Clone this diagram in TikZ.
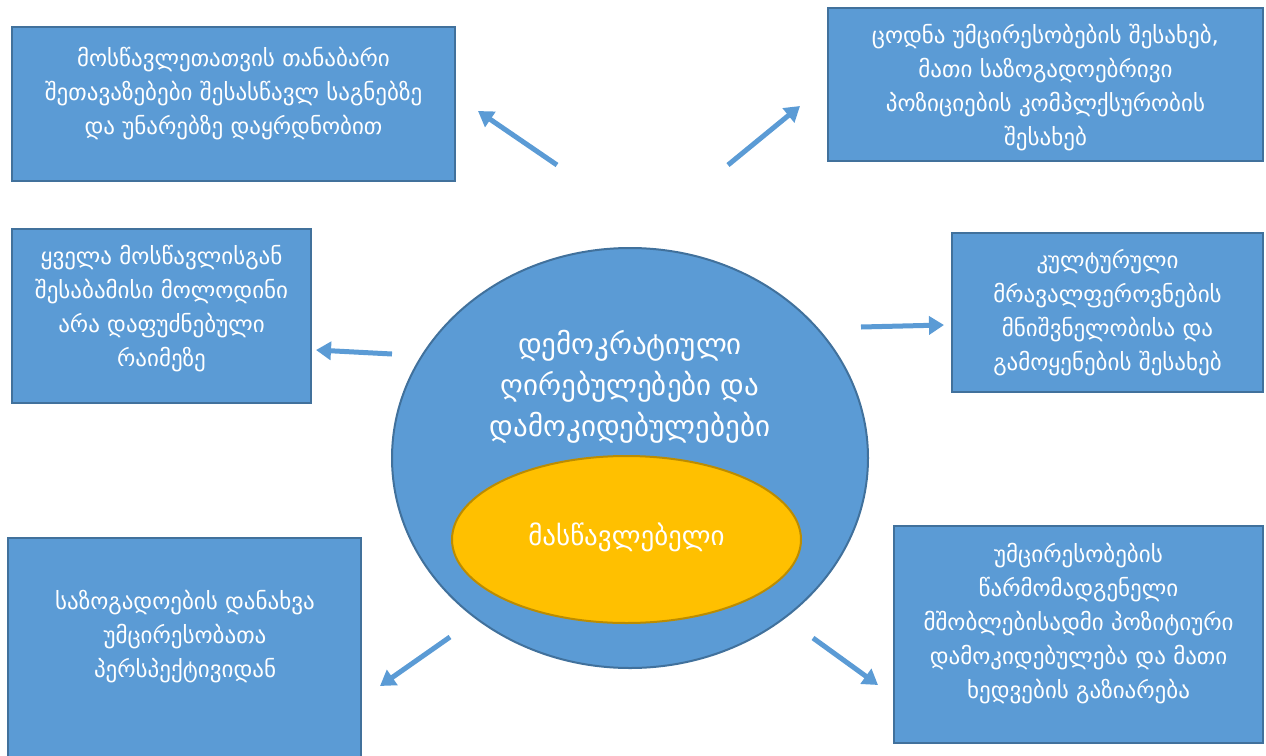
\documentclass[tikz,border=0pt]{standalone}
\usepackage{fontspec}
\setmainfont{DejaVu Sans}
\usetikzlibrary{arrows.meta,shapes.geometric}
\definecolor{boxfill}{HTML}{5B9BD5}
\definecolor{boxline}{HTML}{41719C}
\definecolor{yel}{HTML}{FFC000}
\definecolor{yelline}{HTML}{BC8C00}
\tikzset{
  bx/.style={draw=boxline, line width=2pt, fill=boxfill, inner sep=0pt},
  txt/.style={text=white, align=center, inner sep=0pt, font=\fontsize{23}{34}\selectfont},
  bigtxt/.style={text=white, align=center, inner sep=0pt, font=\fontsize{29}{41}\selectfont},
  arr/.style={draw=boxfill, line width=5pt, -{Triangle[width=18pt,length=15pt]}}
}
\begin{document}
\begin{tikzpicture}[x=1pt,y=-1pt]
\useasboundingbox (0,0) rectangle (1266,755);
% boxes
\node[bx, minimum width=443pt, minimum height=154pt] (b1) at (233.5,104) {};
\node[bx, minimum width=435pt, minimum height=153pt] (b2) at (1045.5,84.5) {};
\node[bx, minimum width=299pt, minimum height=174pt] (b3) at (161.5,316) {};
\node[bx, minimum width=311pt, minimum height=159pt] (b4) at (1107.5,312.5) {};
\node[bx, minimum width=353pt, minimum height=222pt] (b5) at (184.5,649) {};
\node[bx, minimum width=369pt, minimum height=217pt] (b6) at (1078.5,634.5) {};
% ellipses
\node[ellipse, draw=boxline, line width=2pt, fill=boxfill, minimum width=476pt, minimum height=420pt, inner sep=0pt] (big) at (630,458) {};
\node[ellipse, draw=yelline, line width=2pt, fill=yel, minimum width=349pt, minimum height=167pt, inner sep=0pt] (yl) at (626.5,539.5) {};
% texts
\node[txt] (t1) at (233.5,94) {მოსწავლეთათვის თანაბარი\\შეთავაზებები შესასწავლ საგნებზე\\და უნარებზე დაყრდნობით};
\node[txt] (t2) at (1045.5,88) {ცოდნა უმცირესობების შესახებ,\\მათი საზოგადოებრივი\\პოზიციების კომპლქსურობის\\შესახებ};
\node[txt] (t3) at (161.5,309) {ყველა მოსწავლისგან\\შესაბამისი მოლოდინი\\არა დაფუძნებული\\რაიმეზე};
\node[txt] (t4) at (1107.5,313) {კულტურული\\მრავალფეროვნების\\მნიშვნელობისა და\\გამოყენების შესახებ};
\node[txt] (t5) at (185,637) {საზოგადოების დანახვა\\უმცირესობათა\\პერსპექტივიდან};
\node[txt] (t6) at (1078.5,624) {უმცირესობების\\წარმომადგენელი\\მშობლებისადმი პოზიტიური\\დამოკიდებულება და მათი\\ხედვების გაზიარება};
\node[bigtxt] (tc) at (630,387) {დემოკრატიული\\ღირებულებები და\\დამოკიდებულებები};
\node[bigtxt, font=\fontsize{27}{32}\selectfont] (ty) at (626.5,537) {მასწავლებელი};
% arrows
\coordinate (a1s) at (557,165); \coordinate (a1e) at (478,111);
\coordinate (a2s) at (728,165); \coordinate (a2e) at (800,106);
\coordinate (a3s) at (392,354); \coordinate (a3e) at (316,350);
\coordinate (a4s) at (861,327); \coordinate (a4e) at (944,325);
\coordinate (a5s) at (450,637); \coordinate (a5e) at (380,686);
\coordinate (a6s) at (813,638); \coordinate (a6e) at (878,685);
\draw[arr] (a1s) -- (a1e);
\draw[arr] (a2s) -- (a2e);
\draw[arr] (a3s) -- (a3e);
\draw[arr] (a4s) -- (a4e);
\draw[arr] (a5s) -- (a5e);
\draw[arr] (a6s) -- (a6e);
\end{tikzpicture}
\end{document}
